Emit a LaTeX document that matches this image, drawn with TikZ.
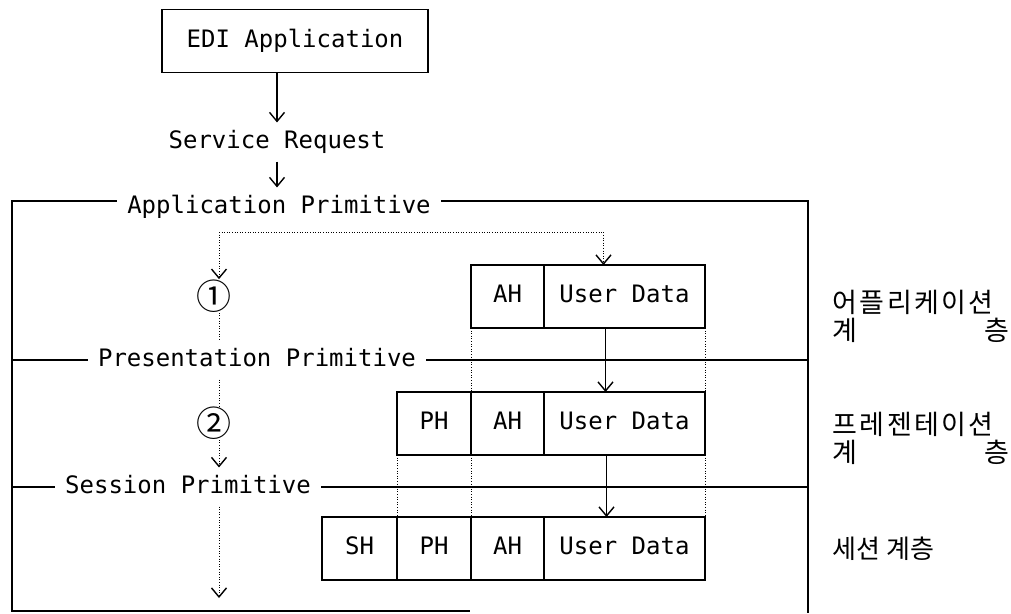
\documentclass[tikz,border=0pt]{standalone}
\usepackage{fontspec}
\setmonofont{DejaVu Sans Mono}
\newfontfamily\kor{Noto Sans CJK KR}
\newfontfamily\korwide[LetterSpace=9]{Noto Sans CJK KR}
\usetikzlibrary{arrows.meta,positioning}

\begin{document}
\begin{tikzpicture}[
    x=1pt, y=-1pt,
    font=\ttfamily\fontsize{24}{28}\selectfont,
    line width=1.1pt,
    lbl/.style={inner xsep=10pt, inner ysep=8pt, text height=17pt, text depth=5pt},
    cell/.style={draw, minimum height=63pt, inner sep=0pt, outer sep=0pt, text height=17pt, text depth=5pt},
    dots/.style={line width=0.8pt, dash pattern=on 1pt off 1.6pt},
    num/.style={font=\kor\fontsize{35}{35}\selectfont, inner sep=0pt},
    layer/.style={font=\korwide\fontsize{27}{28}\selectfont, align=left, anchor=west, inner sep=0pt},
    >={Straight Barb[length=9pt,width=15pt,line width=1.4pt]}
  ]
  \useasboundingbox (0,0) rectangle (1011,613);

  % EDI application and service request
  \node[draw, minimum width=266pt, minimum height=63pt] (edi) at (295,41) {EDI Application};
  \node[lbl] (srv) at (277,142) {Service Request};
  \node[lbl] (app) at (279,207) {Application Primitive};
  \draw[->] (edi.south -| srv) -- (srv.north);
  \draw[->] (srv.south) -- (srv.south |- app.north);

  % frame
  \coordinate (ftl) at (12,201);
  \coordinate (ftr) at (808,201);
  \coordinate (fbl) at (12,611);
  \coordinate (fbm) at (470,611);
  \coordinate (fbr) at (808,613);
  \draw (app.west |- ftl) -- (ftl) -- (fbl) -- (fbm);
  \draw (app.east |- ftr) -- (ftr) -- (fbr);

  % primitives
  \node[lbl] (pres) at (257,360) {Presentation Primitive};
  \node[lbl] (sess) at (188,487) {Session Primitive};
  \draw (pres.west) -- (ftl |- pres);
  \draw (pres.east) -- (ftr |- pres);
  \draw (sess.west) -- (ftl |- sess);
  \draw (sess.east) -- (ftr |- sess);

  % application layer
  \node[cell, minimum width=73pt, anchor=north west] (ah1) at (471,265) {AH};
  \node[cell, minimum width=161pt, right=0pt of ah1] (ud1) {User Data};

  % presentation layer
  \node[cell, minimum width=74pt, anchor=north west] (ph2) at (397,392) {PH};
  \node[cell, minimum width=73pt, right=0pt of ph2] (ah2) {AH};
  \node[cell, minimum width=161pt, right=0pt of ah2] (ud2) {User Data};

  % session layer
  \node[cell, minimum width=75pt, anchor=north west] (sh3) at (322,517) {SH};
  \node[cell, minimum width=74pt, right=0pt of sh3] (ph3) {PH};
  \node[cell, minimum width=73pt, right=0pt of ph3] (ah3) {AH};
  \node[cell, minimum width=161pt, right=0pt of ah3] (ud3) {User Data};

  % guides between layers
  \draw[dots] (ah1.south west) -- (ah1.south west |- ph2.north);
  \draw[dots] (ud1.south east) -- (ud1.south east |- ud2.north);
  \draw[dots] (ph2.south west) -- (ph2.south west |- sh3.north);
  \draw[dots] (ah2.south west) -- (ah2.south west |- sh3.north);
  \draw[dots] (ud2.south east) -- (ud2.south east |- ud3.north);

  % encapsulation
  \draw[->] ([xshift=-19pt]ud1.south) -- ([xshift=-19pt]ud1.south |- ud2.north);
  \draw[->] ([xshift=-18pt]ud2.south) -- ([xshift=-18pt]ud2.south |- ud3.north);

  % primitive flow
  \coordinate (dtop) at (219,232);
  \coordinate (dend) at (219,598);
  \node[num] (c1) at (214,296) {①};
  \node[num] (c2) at (214,423) {②};
  \draw[dots,->] (dtop) -| ([xshift=-21pt]ud1.north);
  \draw[dots,->] (dtop) -- (dtop |- c1.north);
  \draw[dots] (dtop |- c1.south) -- (dtop |- pres.north);
  \draw[dots] (dtop |- pres.south) -- (dtop |- c2.north);
  \draw[dots,->] (dtop |- c2.south) -- (dtop |- sess.north);
  \draw[dots,->] (dtop |- sess.south) -- (dend);

  % layer names
  \node[layer] (lapp) at (832,316) {어플리케이션\\\makebox[177pt][l]{계\hfill 층}};
  \node[layer] (lpre) at (832,438) {프레젠테이션\\\makebox[177pt][l]{계\hfill 층}};
  \node[layer, font=\kor\fontsize{26}{28}\selectfont] (lses) at (832,549) {세션 계층};
\end{tikzpicture}
\end{document}
